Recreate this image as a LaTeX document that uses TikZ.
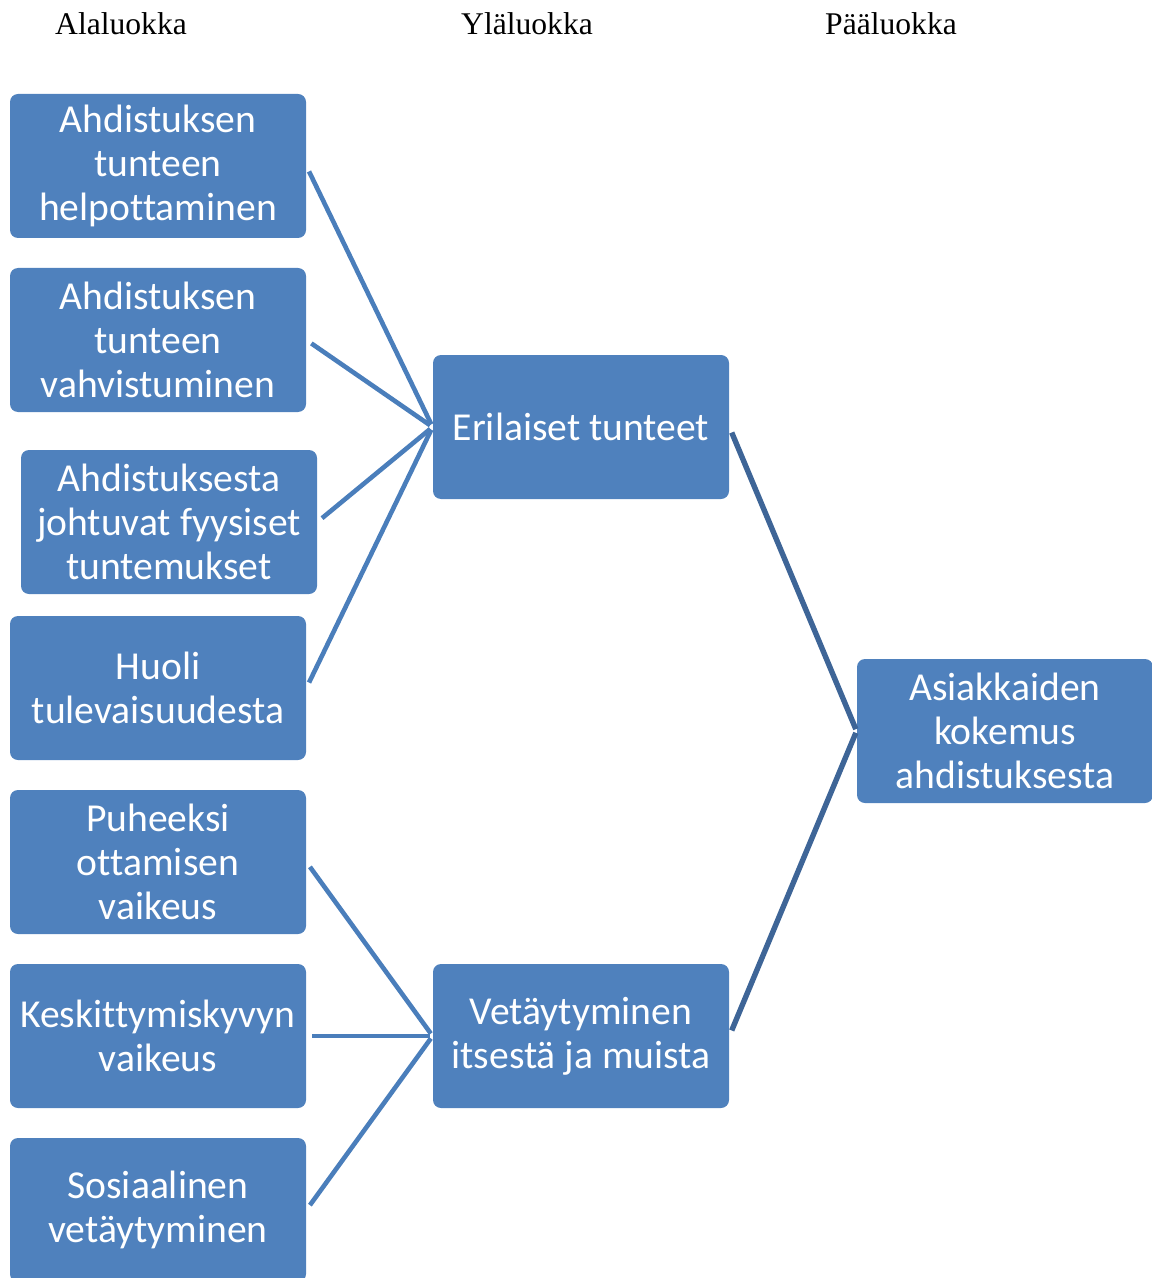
\documentclass[tikz,border=0pt]{standalone}
\usepackage{fontspec}
\setmainfont{Liberation Serif}
\newfontfamily\boxfont[Ligatures=NoCommon]{Carlito}
\usetikzlibrary{positioning}
\definecolor{boxblue}{HTML}{4F81BD}
\definecolor{linkblue}{HTML}{4A7EBB}
\definecolor{darklink}{HTML}{3E6597}
\tikzset{
	x=0.5pt, y=-0.5pt,
	category/.style={rectangle, rounded corners=4pt, fill=boxblue, text=white, minimum width=148pt, minimum height=72pt, inner sep=0pt, align=center, font=\boxfont\fontsize{19.8}{22}\selectfont},
	heading/.style={font=\fontsize{15.8}{18}\selectfont},
	link/.style={draw=linkblue, line width=2.3pt, shorten <=3pt, shorten >=1.5pt},
	mainlink/.style={draw=darklink, line width=2.7pt, shorten <=3pt, shorten >=1pt},
}

\begin{document}
\begin{tikzpicture}
	\useasboundingbox (0,0) rectangle (1151,1278);
	% otsikot
	\node[heading] (hala) at (121,24) {Alaluokka};
	\node[heading] (hyla) at (527,24) {Yläluokka};
	\node[heading] (hpaa) at (891,24) {Pääluokka};
	% alaluokat
	\node[category] (a1) at (158,166) {Ahdistuksen\\tunteen\\helpottaminen};
	\node[category] (a2) at (158,340) {Ahdistuksen\\tunteen\\vahvistuminen};
	\node[category] (a3) at (169,522) {Ahdistuksesta\\johtuvat fyysiset\\tuntemukset};
	\node[category] (a4) at (158,688) {Huoli\\tulevaisuudesta};
	\node[category] (a5) at (158,862) {Puheeksi\\ottamisen\\vaikeus};
	\node[category] (a6) at (158,1036) {Keskittymiskyvyn\\vaikeus};
	\node[category] (a7) at (158,1210) {Sosiaalinen\\vetäytyminen};
	% yläluokat ja pääluokka
	\node[category] (y1) at (581,427) {Erilaiset tunteet};
	\node[category] (y2) at (581,1036) {Vetäytyminen\\itsestä ja muista};
	\node[category] (p1) at (1005,731) {Asiakkaiden\\kokemus\\ahdistuksesta};
	\draw[link] (a1.east) edge (y1.west)
		(a2.east) edge (y1.west)
		(a3.east) edge (y1.west)
		(a4.east) edge (y1.west)
		(a5.east) edge (y2.west)
		(a6.east) edge (y2.west)
		(a7.east) edge (y2.west);
	\draw[mainlink] (y1.east) edge (p1.west)
		(y2.east) edge (p1.west);
\end{tikzpicture}
\end{document}
